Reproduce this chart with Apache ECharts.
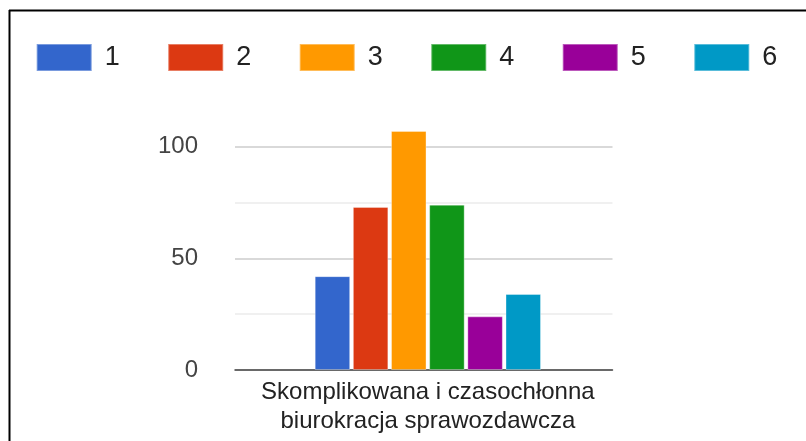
<!DOCTYPE html>
<html>
<head>
<meta charset="utf-8">
<script src="https://cdn.jsdelivr.net/npm/echarts@6/dist/echarts.min.js"></script>
<style>
html,body{margin:0;padding:0;background:#fff;}
#c{width:806px;height:441px;}
</style>
</head>
<body>
<div id="c"></div>
<script>
var categories = ['Skomplikowana i czasochłonna\nbiurokracja sprawozdawcza'];
var seriesNames = ['1', '2', '3', '4', '5', '6'];
var seriesValues = [[42], [73], [107], [74], [24], [34]];
var seriesColors = ['#3366cc', '#dc3912', '#ff9900', '#109618', '#990099', '#0099c6'];
var yTickLabels = [0, 50, 100];

var FONT = '"Liberation Sans", Arial, sans-serif';
var chart = echarts.init(document.getElementById('c'), null, {renderer: 'canvas'});

var series = seriesNames.map(function (n, i) {
  return {
    name: n,
    type: 'bar',
    xAxisIndex: 1,
    yAxisIndex: 1,
    data: seriesValues[i],
    barWidth: 35.5,
    barGap: '7.5%',
    itemStyle: {color: seriesColors[i], borderColor: 'rgba(255,255,255,0.35)', borderWidth: 1}
  };
});

chart.setOption({
  animation: false,
  backgroundColor: '#fff',
  legend: {
    left: 35.7,
    top: 43,
    padding: 0,
    itemWidth: 55,
    itemHeight: 27,
    itemGap: 47.5,
    icon: 'rect',
    data: seriesNames,
    textStyle: {fontFamily: FONT, fontSize: 27, color: '#222', padding: [0, 0, 0, 8], lineHeight: 27}
  },
  grid: [
    {left: 235, right: 193.5, top: 124.2, bottom: 71, containLabel: false},
    {left: 239.1, right: 189.4, top: 124.2, bottom: 71, containLabel: false}
  ],
  xAxis: [
    {
      type: 'category', gridIndex: 0, data: categories,
      axisLine: {show: true, lineStyle: {color: '#444', width: 1.5}},
      axisTick: {show: false}, axisLabel: {show: false}
    },
    {
      type: 'category', gridIndex: 1, data: categories,
      axisLine: {show: false}, axisTick: {show: false},
      axisLabel: {fontFamily: FONT, fontSize: 24, color: '#222', lineHeight: 29, margin: 8}
    }
  ],
  yAxis: [
    {
      type: 'value', gridIndex: 0, min: 0, max: 110, interval: 25,
      axisLine: {show: false}, axisTick: {show: false},
      axisLabel: {
        fontFamily: FONT, fontSize: 24, color: '#444', margin: 37,
        formatter: function (v) { return yTickLabels.indexOf(v) >= 0 ? String(v) : ''; }
      },
      splitLine: {lineStyle: {color: ['#cccccc', '#ebebeb', '#cccccc', '#ebebeb', '#cccccc', 'rgba(0,0,0,0)'], width: 1.5}}
    },
    {
      type: 'value', gridIndex: 1, min: 0, max: 110, interval: 25,
      axisLine: {show: false}, axisTick: {show: false}, axisLabel: {show: false}, splitLine: {show: false}
    }
  ],
  graphic: [
    {type: 'line', shape: {x1: 9, y1: 10.5, x2: 806, y2: 10.5}, style: {stroke: '#000', lineWidth: 2}, z: 100},
    {type: 'line', shape: {x1: 9.5, y1: 10, x2: 9.5, y2: 441}, style: {stroke: '#000', lineWidth: 2}, z: 100}
  ],
  series: series
});
</script>
</body>
</html>
